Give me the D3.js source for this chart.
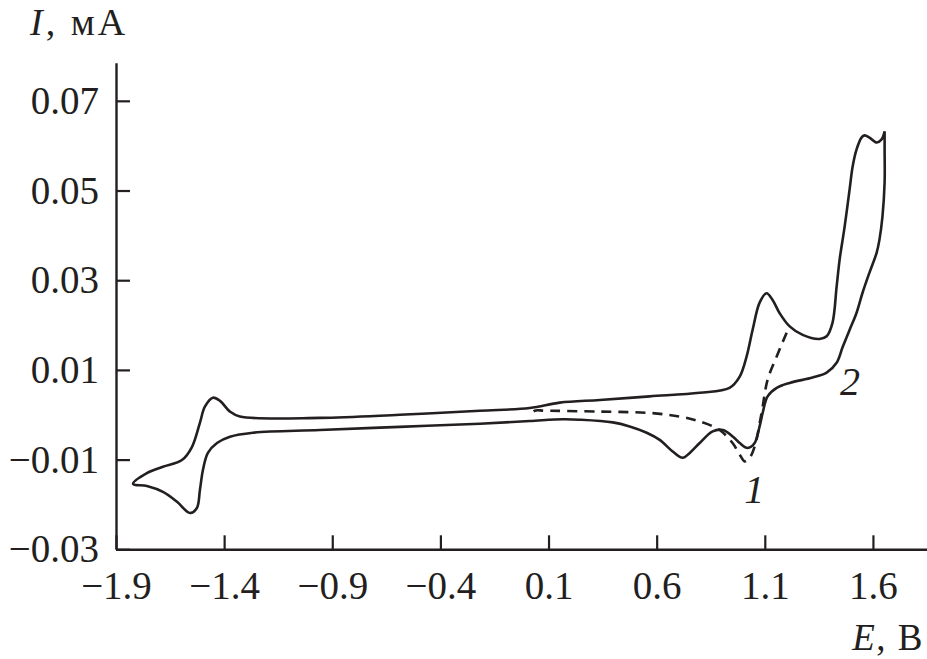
<!DOCTYPE html>
<html>
<head>
<meta charset="utf-8">
<script src="https://cdn.jsdelivr.net/npm/d3@7"></script>
<style>
  html, body { margin: 0; padding: 0; background: #fff; }
  svg { display: block; }
  text { font-family: "Liberation Serif", "Times New Roman", serif; fill: #231f20; }
</style>
</head>
<body>
<svg id="chart" width="927" height="659"></svg>
<script>
// ---- data ----
const xTicks = [-1.9, -1.4, -0.9, -0.4, 0.1, 0.6, 1.1, 1.6];
const yTicks = [-0.03, -0.01, 0.01, 0.03, 0.05, 0.07];

// curve 2 (solid): closed loop, cathodic branch leftwards then anodic branch rightwards
const E2 = [1.654, 1.654, 1.654, 1.644, 1.630, 1.617, 1.584, 1.552, 1.524, 1.492, 1.460, 1.432, 1.386, 1.321,
  1.215, 1.155, 1.113, 1.090, 1.076, 1.053, 1.021, 0.984, 0.953, 0.906, 0.859, 0.799, 0.753, 0.720,
  0.674, 0.614, 0.554, 0.475, 0.397, 0.244, 0.166, 0.013, -0.218, -0.588, -0.957, -1.267, -1.373,
  -1.433, -1.475, -1.498, -1.512, -1.526, -1.558, -1.618, -1.683, -1.757, -1.821,
  -1.757, -1.683, -1.595, -1.549, -1.512, -1.489, -1.452, -1.419, -1.373, -1.327, -0.957, -0.588,
  -0.218, 0.013, 0.152, 0.337, 0.568, 0.799, 0.937, 0.984, 1.016, 1.044, 1.076, 1.108, 1.136, 1.168,
  1.215, 1.275, 1.353, 1.386, 1.413, 1.432, 1.446, 1.469, 1.492, 1.506, 1.524, 1.547, 1.561, 1.584,
  1.617, 1.640, 1.654];
const I2 = [0.0632, 0.0591, 0.0518, 0.0442, 0.0390, 0.0361, 0.0317, 0.0272, 0.0227, 0.0189, 0.0151, 0.0116, 0.0094, 0.0083,
  0.0071, 0.0060, 0.0041, 0.0004, -0.0026, -0.0063, -0.0074, -0.0063, -0.0049, -0.0034, -0.0037, -0.0063, -0.0085, -0.0096,
  -0.0082, -0.0056, -0.0040, -0.0026, -0.0017, -0.0011, -0.0010, -0.0014, -0.0020, -0.0027, -0.0034, -0.0040, -0.0049,
  -0.0063, -0.0085, -0.0123, -0.0168, -0.0208, -0.0219, -0.0194, -0.0172, -0.0159, -0.0154,
  -0.0130, -0.0116, -0.0101, -0.0072, -0.0018, 0.0018, 0.0038, 0.0031, 0.0007, -0.0004, -0.0007, 0.0000,
  0.0009, 0.0015, 0.0027, 0.0033, 0.0041, 0.0049, 0.0060, 0.0085, 0.0130, 0.0190, 0.0250, 0.0271, 0.0256, 0.0227,
  0.0197, 0.0178, 0.0169, 0.0175, 0.0205, 0.0285, 0.0346, 0.0419, 0.0502, 0.0553, 0.0591, 0.0618, 0.0623, 0.0618,
  0.0607, 0.0614, 0.0632];

// curve 1 (dashed): reverse scan from 1.2 V back to 0 V
const E1 = [1.201, 1.155, 1.113, 1.085, 1.053, 1.030, 1.007, 0.984, 0.951, 0.891, 0.799, 0.706, 0.568, 0.337, 0.082, 0.036, 0.013];
const I1 = [0.0183, 0.0130, 0.0078, 0.0004, -0.0071, -0.0096, -0.0104, -0.0089, -0.0063, -0.0034, -0.0015, -0.0004, 0.0004, 0.0007, 0.0009, 0.0009, -0.0005];

const curveLabels = [{t: "1", e: 1.005, i: -0.0197}, {t: "2", e: 1.448, i: 0.0044}];

// ---- layout ----
const svg = d3.select("#chart");
const ink = "#231f20";
const x = d3.scaleLinear().domain([-1.9, 1.85]).range([116, 927]);
const y = d3.scaleLinear().domain([-0.03, 0.0785]).range([549.3, 62.7]);

const fmtX = d3.format(".1f"), fmtY = d3.format(".2f");

const gx = svg.append("g").attr("transform", `translate(0,${y(-0.03)})`)
  .call(d3.axisBottom(x).tickValues(xTicks).tickFormat(fmtX).tickSizeInner(-14).tickSizeOuter(0).tickPadding(22));
const gy = svg.append("g").attr("transform", `translate(${x(-1.9)},0)`)
  .call(d3.axisLeft(y).tickValues(yTicks).tickFormat(fmtY).tickSizeInner(-14).tickSizeOuter(0).tickPadding(17));

[gx, gy].forEach(g => {
  g.select(".domain").attr("stroke", ink).attr("stroke-width", 2.4);
  g.selectAll(".tick line").attr("stroke", ink).attr("stroke-width", 2.2);
  g.selectAll(".tick text").attr("font-size", 39).attr("fill", ink)
    .style("font-family", "'Liberation Serif', 'Times New Roman', serif");
});

const line = d3.line().x(d => x(d[0])).y(d => y(d[1])).curve(d3.curveCatmullRom.alpha(0.5));

svg.append("path").datum(E2.map((e, k) => [e, I2[k]]))
  .attr("d", line).attr("fill", "none").attr("stroke", ink)
  .attr("stroke-width", 2.6).attr("stroke-linejoin", "round");

svg.append("path").datum(E1.map((e, k) => [e, I1[k]]))
  .attr("d", line).attr("fill", "none").attr("stroke", ink)
  .attr("stroke-width", 2.6).attr("stroke-dasharray", "10,7");

// ---- labels ----
const yt = svg.append("text").attr("x", 30).attr("y", 35).attr("font-size", 38).attr("letter-spacing", 3);
yt.append("tspan").attr("font-style", "italic").text("I");
yt.append("tspan").text(", мА");

const xt = svg.append("text").attr("x", 924).attr("y", 650).attr("font-size", 37)
  .attr("text-anchor", "end").attr("letter-spacing", 1.5);
xt.append("tspan").attr("font-style", "italic").text("E");
xt.append("tspan").text(", В");

svg.selectAll(".clabel").data(curveLabels).enter().append("text")
  .attr("class", "clabel")
  .attr("x", d => x(d.e)).attr("y", d => y(d.i))
  .attr("font-size", 40).attr("font-style", "italic").text(d => d.t);
</script>
</body>
</html>
